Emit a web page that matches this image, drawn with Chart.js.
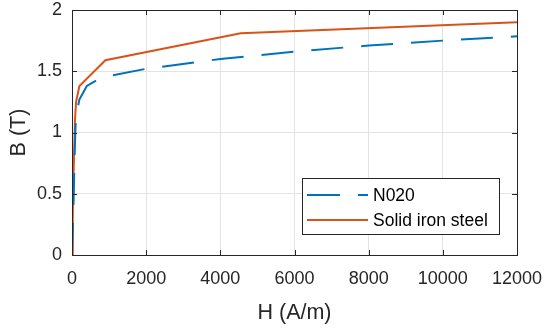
<!DOCTYPE html>
<html>
<head>
<meta charset="utf-8">
<script src="https://cdn.jsdelivr.net/npm/chart.js@4"></script>
<style>
  html, body { margin: 0; padding: 0; background: #fff; }
  #wrap { width: 546px; height: 330px; }
</style>
</head>
<body>
<div id="wrap"><canvas id="bh"></canvas></div>
<script>
// B-H curves
const n020H = [0, 40, 70, 95, 120, 200, 400, 800, 2000, 4000, 6000, 8000, 10000, 12000];
const n020B = [0, 0.4, 0.8, 1.05, 1.15, 1.27, 1.38, 1.45, 1.52, 1.60, 1.66, 1.71, 1.75, 1.785];
const solidH = [0, 20, 45, 80, 110, 200, 900, 4550, 12000];
const solidB = [0, 0.3, 0.7, 1.1, 1.25, 1.38, 1.59, 1.81, 1.90];
const seriesNames = ['N020', 'Solid iron steel'];
const xTicks = [0, 2000, 4000, 6000, 8000, 10000, 12000];
const yTicks = [0, 0.5, 1, 1.5, 2];

const BLUE = '#0072BD', ORANGE = '#D95319', AXIS = '#262626';
const FONT = "'Liberation Sans', Arial, sans-serif";

const toPts = (hs, bs) => hs.map((h, i) => ({ x: h, y: bs[i] }));

// box, inward ticks and MATLAB-like legend
const matlabAxes = {
    id: 'matlabAxes',
    afterDraw(chart) {
        const { ctx, chartArea: a, scales } = chart;
        ctx.save();
        ctx.strokeStyle = AXIS;
        ctx.lineWidth = 1;
        ctx.strokeRect(a.left + 0.5, a.top + 0.5, a.right - a.left, a.bottom - a.top);
        ctx.beginPath();
        xTicks.forEach(v => {
            const px = Math.round(scales.x.getPixelForValue(v)) + 0.5;
            ctx.moveTo(px, a.bottom); ctx.lineTo(px, a.bottom - 5);
            ctx.moveTo(px, a.top); ctx.lineTo(px, a.top + 5);
        });
        yTicks.forEach(v => {
            const py = Math.round(scales.y.getPixelForValue(v)) + 0.5;
            ctx.moveTo(a.left, py); ctx.lineTo(a.left + 5, py);
            ctx.moveTo(a.right, py); ctx.lineTo(a.right - 5, py);
        });
        ctx.stroke();

        // legend
        const lx = 302, ly = 178, lw = 197, lh = 56;
        ctx.fillStyle = '#fff';
        ctx.fillRect(lx, ly, lw, lh);
        ctx.strokeStyle = AXIS;
        ctx.strokeRect(lx + 0.5, ly + 0.5, lw, lh);
        const rows = [
            { y: 195, color: BLUE, dash: [33, 18] },
            { y: 220, color: ORANGE, dash: [] }
        ];
        ctx.font = '17.5px ' + FONT;
        ctx.textBaseline = 'middle';
        rows.forEach((r, i) => {
            ctx.beginPath();
            ctx.setLineDash(r.dash);
            ctx.strokeStyle = r.color;
            ctx.lineWidth = 2;
            ctx.moveTo(307, r.y); ctx.lineTo(368, r.y);
            ctx.stroke();
            ctx.setLineDash([]);
            ctx.fillStyle = '#000';
            ctx.fillText(seriesNames[i], 373, r.y + 1);
        });
        ctx.restore();
    }
};

new Chart(document.getElementById('bh'), {
    type: 'line',
    data: {
        datasets: [
            { label: seriesNames[0], data: toPts(n020H, n020B), borderColor: BLUE,
              borderWidth: 2, borderDash: [32, 18], pointRadius: 0, tension: 0, fill: false },
            { label: seriesNames[1], data: toPts(solidH, solidB), borderColor: ORANGE,
              borderWidth: 2, pointRadius: 0, tension: 0, fill: false }
        ]
    },
    options: {
        responsive: true,
        maintainAspectRatio: false,
        animation: false,
        layout: { padding: { top: 10, right: 29, left: 0, bottom: 0 } },
        plugins: { legend: { display: false }, tooltip: { enabled: false } },
        scales: {
            x: {
                type: 'linear', min: 0, max: 12000,
                afterBuildTicks: s => { s.ticks = xTicks.map(v => ({ value: v })); },
                afterFit: s => { s.height = 75; s.paddingRight = 0; s.paddingLeft = 0; },
                grid: { color: '#e3e3e3', drawTicks: false },
                border: { display: false },
                ticks: { color: AXIS, font: { family: FONT, size: 18 }, padding: 13, maxRotation: 0,
                         callback: v => String(v) },
                title: { display: true, text: 'H (A/m)', color: AXIS,
                         font: { family: FONT, size: 21.5 }, padding: { top: 5 } }
            },
            y: {
                min: 0, max: 2,
                afterBuildTicks: s => { s.ticks = yTicks.map(v => ({ value: v })); },
                afterFit: s => { s.width = 72; s.paddingTop = 0; s.paddingBottom = 0; },
                grid: { color: '#e3e3e3', drawTicks: false },
                border: { display: false },
                ticks: { color: AXIS, font: { family: FONT, size: 18 }, padding: 10,
                         callback: v => String(v) },
                title: { display: true, text: 'B (T)', color: AXIS,
                         font: { family: FONT, size: 21.5 }, padding: { top: 6, bottom: 4 } }
            }
        }
    },
    plugins: [matlabAxes]
});
</script>
</body>
</html>
